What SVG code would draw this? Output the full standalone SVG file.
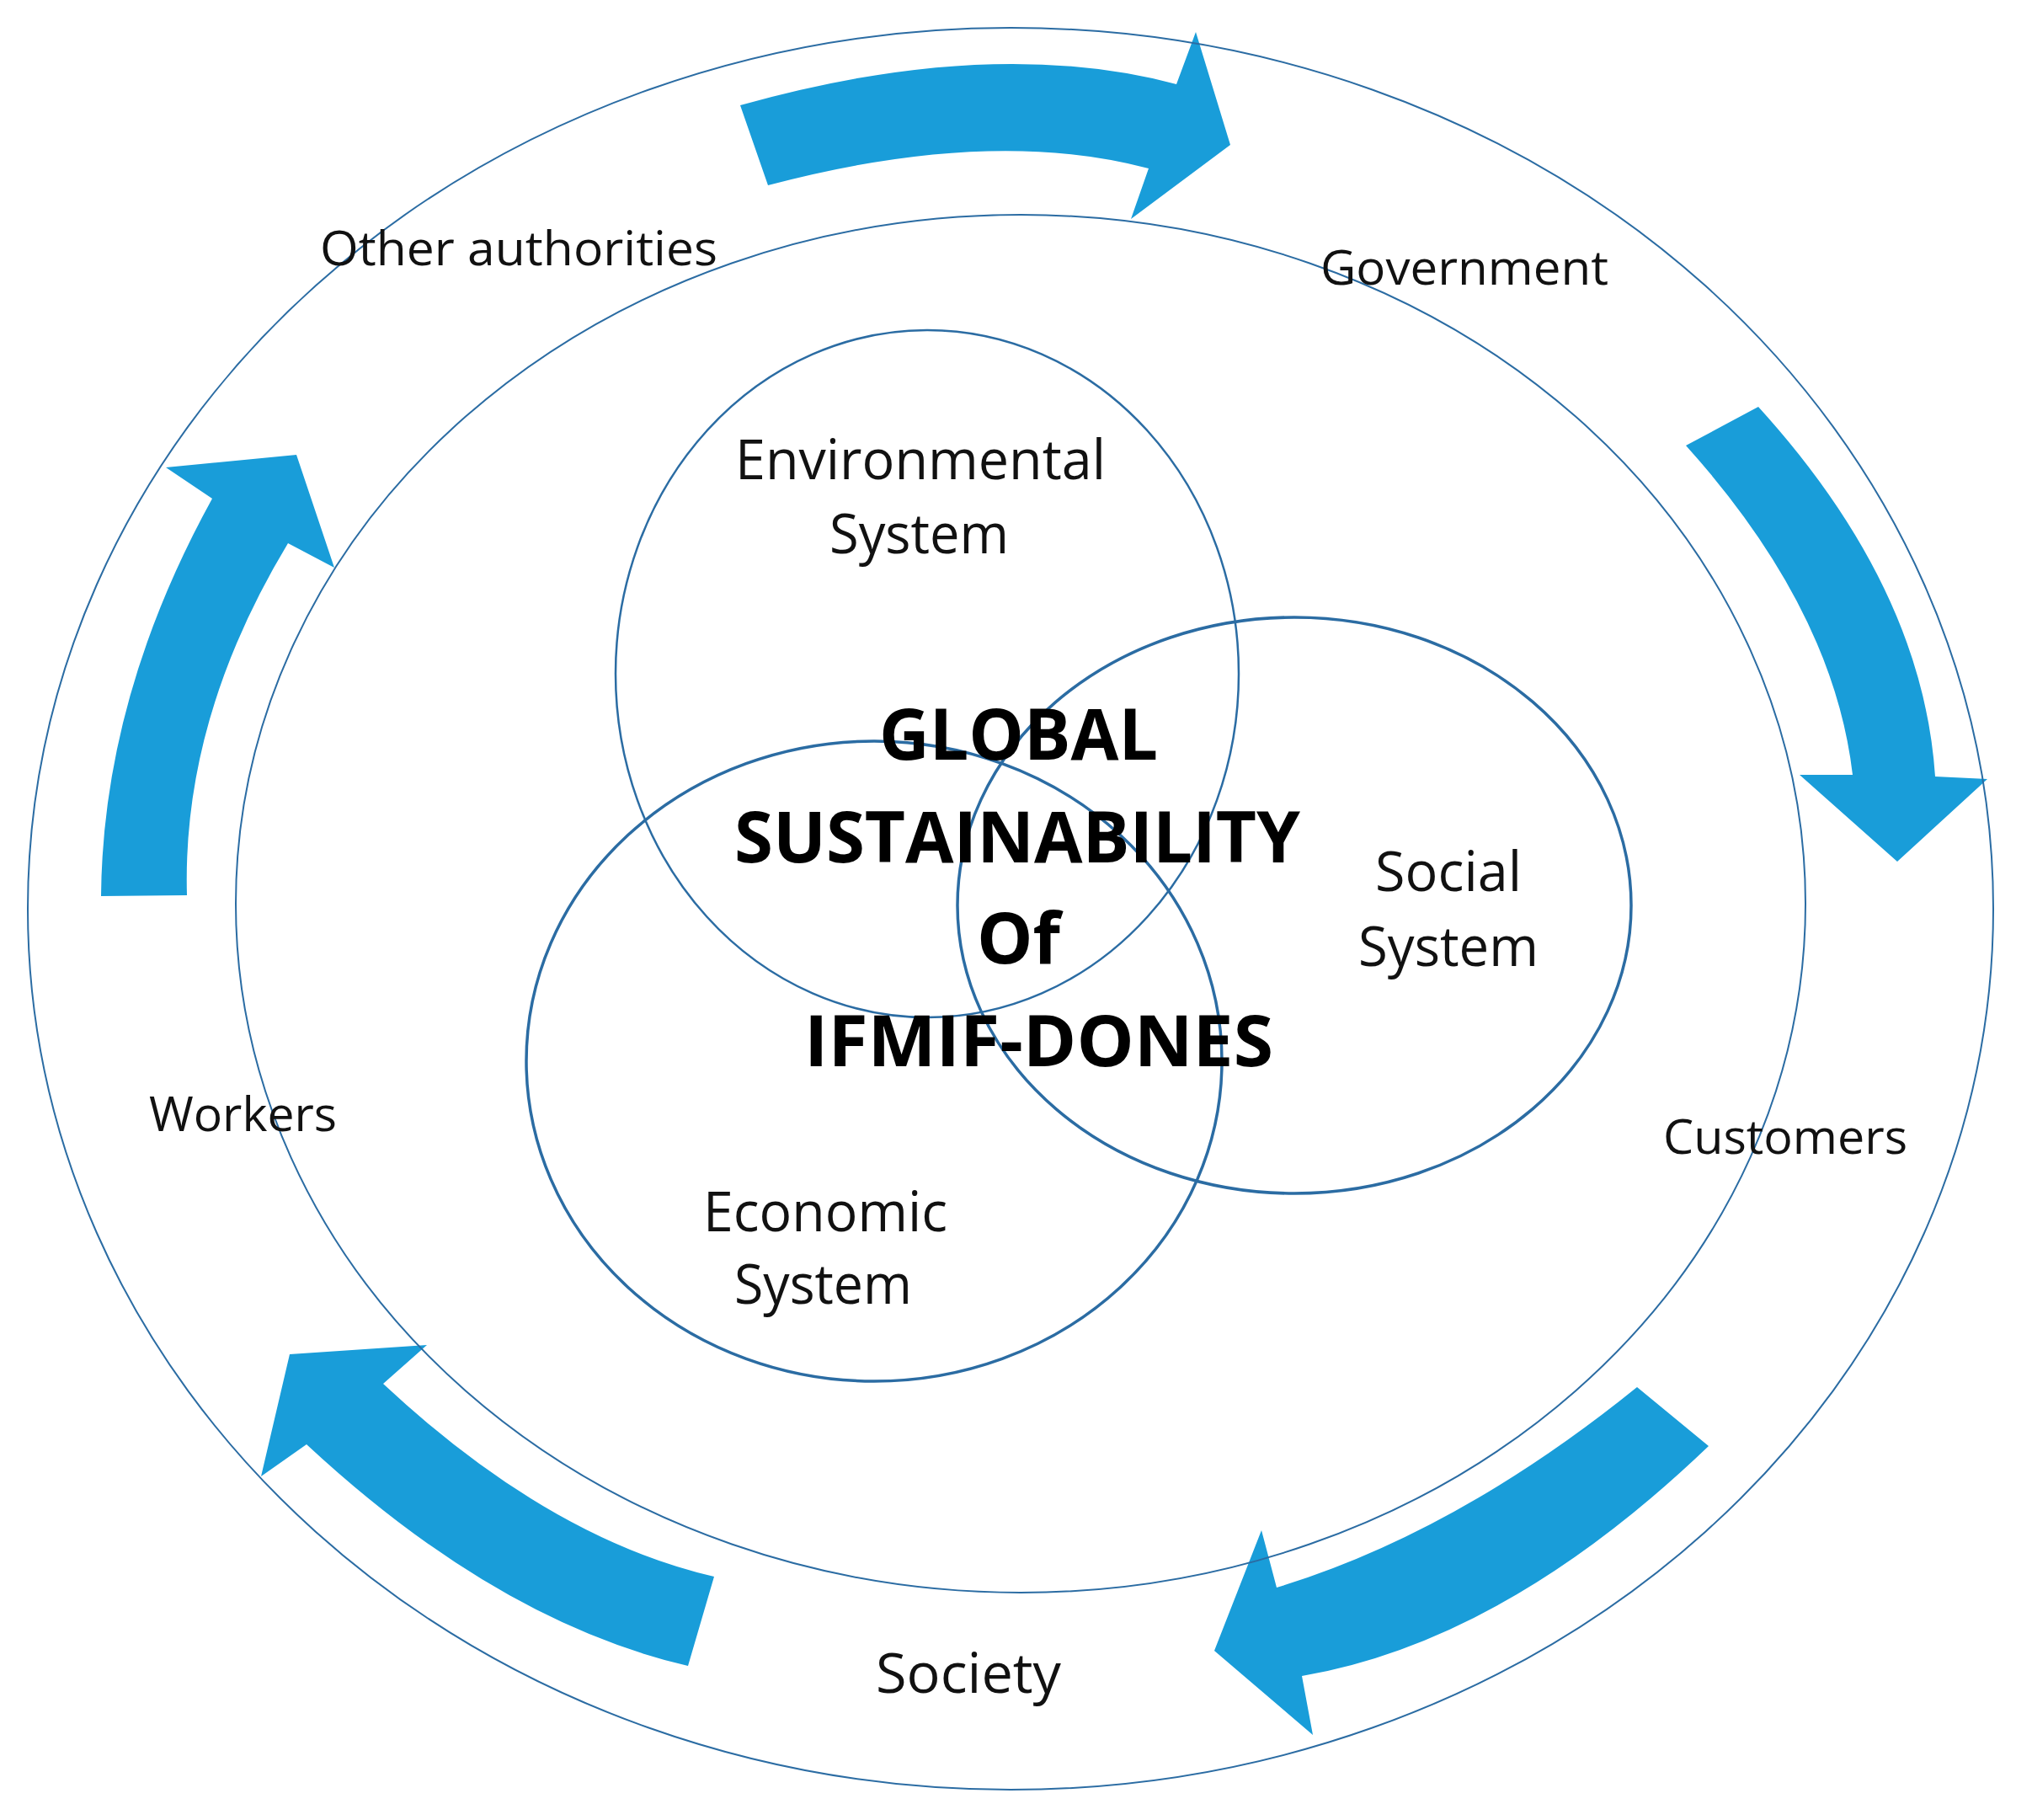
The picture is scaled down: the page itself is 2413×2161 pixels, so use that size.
<svg xmlns="http://www.w3.org/2000/svg" width="2413" height="2161" viewBox="0 0 2413 2161">
<style>
.ring{fill:none;stroke:#2b6ca3;stroke-width:2}
.sys{fill:none;stroke:#2b6ca3;stroke-width:2.5}
.sys2{fill:none;stroke:#2b6ca3;stroke-width:3.5}
.arrow{fill:#199dd9;stroke:none}
.lbl{font-family:"Open Sans","Noto Sans",sans-serif;font-size:57px;fill:#111;text-anchor:middle}
.sl{font-family:"Open Sans","Noto Sans",sans-serif;font-size:65px;fill:#111;text-anchor:middle}
.ttl{font-family:"Open Sans","Noto Sans",sans-serif;font-size:84px;font-weight:bold;fill:#000;text-anchor:middle}
</style>
<rect width="2413" height="2161" fill="#ffffff"/>
<g id="connectors">
<path class="arrow" d="M879,125 Q1176,41.5 1397,100 L1420,38 L1461,172 L1343,260 L1364,200 Q1176,150 912,220 Z"/>
<path class="arrow" d="M2088,483 Q2283,697.5 2298,922 L2360,925 L2253,1023 L2137,920 L2200,920 Q2177,723.5 2002,529 Z"/>
<path class="arrow" d="M1944,1647 Q1730,1820 1516,1885 L1498,1817 L1442,1960 L1559,2060 L1546,1990 Q1787.5,1948.5 2029,1717 Z"/>
<path class="arrow" d="M848,1872 Q651.5,1826.5 455,1643 L507,1597 L344,1608 L310,1753 L364,1715 Q590.5,1925.5 817,1978 Z"/>
<path class="arrow" d="M120,1064 Q122,828 252,592 L197,555 L352,540 L397,674 L342,645 Q216,854 222,1063 Z"/>
</g>
<g id="outer-ring"><ellipse class="ring" cx="1200" cy="1079" rx="1167" ry="1046"/></g>
<g id="inner-ring"><ellipse class="ring" cx="1212" cy="1073" rx="932" ry="818"/></g>
<g id="environmental"><ellipse class="sys" cx="1101" cy="800" rx="370" ry="408"/></g>
<g id="social"><ellipse class="sys2" cx="1537" cy="1075" rx="400" ry="342"/></g>
<g id="economic"><ellipse class="sys2" cx="1038" cy="1260" rx="413" ry="380"/></g>
<g id="labels">
<text class="lbl" x="616" y="315" textLength="472" lengthAdjust="spacingAndGlyphs">Other authorities</text>
<text class="lbl" x="1739" y="338" textLength="342" lengthAdjust="spacingAndGlyphs">Government</text>
<text class="lbl" x="288.5" y="1343" textLength="223" lengthAdjust="spacingAndGlyphs">Workers</text>
<text class="lbl" x="2120" y="1370" textLength="290" lengthAdjust="spacingAndGlyphs">Customers</text>
<text class="sl" x="1150" y="2010" textLength="220" lengthAdjust="spacingAndGlyphs">Society</text>
</g>
<g id="env-label">
<text class="sl" x="1093" y="569" textLength="440" lengthAdjust="spacingAndGlyphs">Environmental</text>
<text class="sl" x="1091.5" y="657" textLength="213" lengthAdjust="spacingAndGlyphs">System</text>
</g>
<g id="social-label">
<text class="sl" x="1720" y="1058" textLength="174" lengthAdjust="spacingAndGlyphs">Social</text>
<text class="sl" x="1720" y="1147" textLength="214" lengthAdjust="spacingAndGlyphs">System</text>
</g>
<g id="economic-label">
<text class="sl" x="980" y="1462" textLength="290" lengthAdjust="spacingAndGlyphs">Economic</text>
<text class="sl" x="977.5" y="1548" textLength="211" lengthAdjust="spacingAndGlyphs">System</text>
</g>
<g id="title">
<text class="ttl" x="1209.5" y="902" textLength="331" lengthAdjust="spacingAndGlyphs">GLOBAL</text>
<text class="ttl" x="1208" y="1024" textLength="672" lengthAdjust="spacingAndGlyphs">SUSTAINABILITY</text>
<text class="ttl" x="1209.5" y="1144" textLength="99" lengthAdjust="spacingAndGlyphs">Of</text>
<text class="ttl" x="1233.5" y="1266" textLength="557" lengthAdjust="spacingAndGlyphs">IFMIF-DONES</text>
</g>
</svg>
